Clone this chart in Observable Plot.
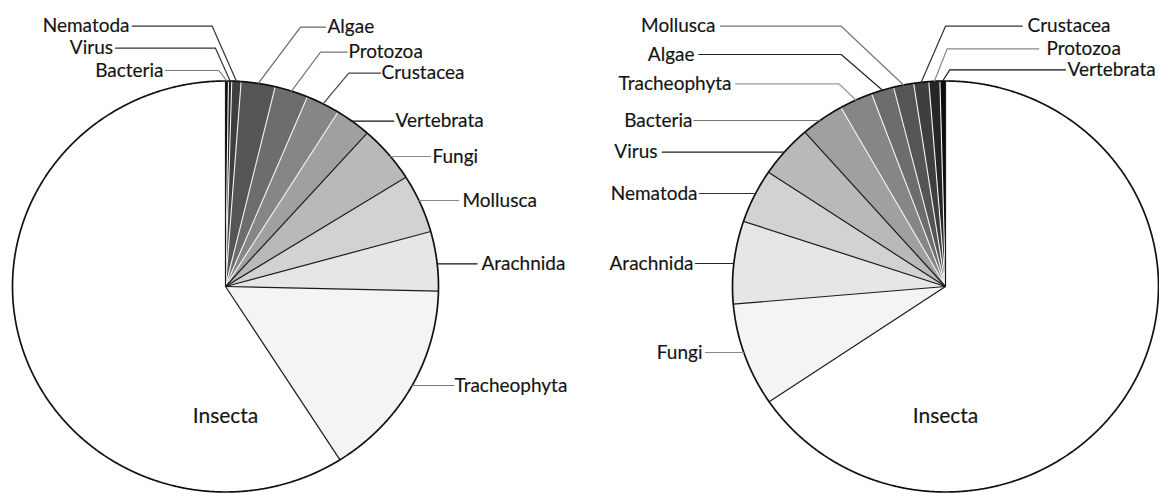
<!DOCTYPE html>
<html><head><meta charset="utf-8">
<script src="https://cdn.jsdelivr.net/npm/d3@7"></script>
<script src="https://cdn.jsdelivr.net/npm/@observablehq/plot@0.6"></script>
<style>html,body{margin:0;padding:0;background:#fff;} #chart{width:1159px;height:493px;overflow:hidden}</style>
</head><body><div id="chart"></div>
<script>
// ---------------- DATA (shares in %) ----------------
const categoriesLeft = ["Bacteria","Virus","Nematoda","Algae","Protozoa","Crustacea","Vertebrata","Fungi","Mollusca","Arachnida","Tracheophyta","Insecta"];
const valuesLeft = [0.22, 0.25, 0.7, 2.58, 2.53, 2.58, 2.72, 4.5, 4.61, 4.67, 15.61, 59.03];
const categoriesRight = ["Vertebrata","Protozoa","Crustacea","Mollusca","Algae","Tracheophyta","Bacteria","Virus","Nematoda","Arachnida","Fungi","Insecta"];
const valuesRight = [0.42, 0.83, 1.14, 1.53, 1.72, 2.53, 3.31, 4.14, 4.25, 6.5, 8.11, 65.53];

// ---------------- STYLE / LAYOUT ----------------
const W = 1159, H = 493;
const RX = 213, RY = 205.5, CX0 = 225, CY0 = 286;
const grays = ["#0d0d0d","#262626","#3f3f3f","#555555","#6d6d6d","#868686","#a0a0a0","#b9b9b9","#d2d2d2","#e6e6e6","#f4f4f4","#ffffff"];
const FONT = "Lato, 'Open Sans', sans-serif";
const ux = px => (px - CX0) / RX;
const uy = py => (CY0 - py) / RY;

// label layout: ly = label row, ex = elbow x (null: horizontal from rim), endX = line end, tx = text x
const leftLabels = [
  {cat:"Nematoda", ly:25.7, ex:211.7, endX:131.7, tx:129, anchor:"end", color:"#333"},
  {cat:"Virus", ly:47.7, ex:215, endX:115, tx:112.5, anchor:"end", color:"#333"},
  {cat:"Bacteria", ly:70, ex:218.3, endX:165, tx:163, anchor:"end", color:"#777"},
  {cat:"Algae", ly:26.7, ex:300, endX:325, tx:327, anchor:"start", color:"#666"},
  {cat:"Protozoa", ly:51.7, ex:320, endX:346.7, tx:348, anchor:"start", color:"#777"},
  {cat:"Crustacea", ly:72.7, ex:348.3, endX:380, tx:381, anchor:"start", color:"#444"},
  {cat:"Vertebrata", ly:120.7, ex:null, endX:393.3, tx:395, anchor:"start", color:"#111"},
  {cat:"Fungi", ly:156, ex:null, endX:430, tx:432, anchor:"start", color:"#888"},
  {cat:"Mollusca", ly:200, ex:null, endX:458.3, tx:462, anchor:"start", color:"#888"},
  {cat:"Arachnida", ly:263.3, ex:null, endX:476.7, tx:481, anchor:"start", color:"#111"},
  {cat:"Tracheophyta", ly:385, ex:null, endX:453.3, tx:454, anchor:"start", color:"#777"}
];
const rightLabels = [
  {cat:"Mollusca", ly:25.7, ex:840.7, endX:720, tx:715, anchor:"end", color:"#777"},
  {cat:"Algae", ly:54, ex:840.7, endX:698.3, tx:694, anchor:"end", color:"#222"},
  {cat:"Tracheophyta", ly:83.3, ex:838.3, endX:735, tx:731, anchor:"end", color:"#999"},
  {cat:"Bacteria", ly:120, ex:null, endX:693.3, tx:692, anchor:"end", color:"#777"},
  {cat:"Virus", ly:151.7, ex:null, endX:661.7, tx:657, anchor:"end", color:"#222"},
  {cat:"Nematoda", ly:193, ex:null, endX:699, tx:697, anchor:"end", color:"#333"},
  {cat:"Arachnida", ly:263, ex:null, endX:695, tx:693, anchor:"end", color:"#222"},
  {cat:"Fungi", ly:352, ex:null, endX:705, tx:702, anchor:"end", color:"#888"},
  {cat:"Crustacea", ly:25.7, ex:945, endX:1021.7, tx:1027, anchor:"start", color:"#333"},
  {cat:"Protozoa", ly:48.3, ex:946.7, endX:1038.3, tx:1046, anchor:"start", color:"#888"},
  {cat:"Vertebrata", ly:69.3, ex:949.3, endX:1065, tx:1067, anchor:"start", color:"#111"}
];

const pies = [
  {key:"L", cx:225, cy:286, dir:1, cats:categoriesLeft, vals:valuesLeft, labels:leftLabels},
  {key:"R", cx:945, cy:286, dir:-1, cats:categoriesRight, vals:valuesRight, labels:rightLabels}
];

// ---------------- GEOMETRY FROM DATA ----------------
const pt = (p, deg, r = 1) => { const t = deg * Math.PI / 180; return {x: ux(p.cx) + p.dir * r * Math.sin(t), y: uy(p.cy) + r * Math.cos(t)}; };
const slicePts = [], rimPts = [], bounds = [], leaders = [], texts = [];
for (const p of pies) {
  const total = d3.sum(p.vals);
  let cum = 0;
  const slices = p.cats.map((c, i) => { const a0 = cum / total * 360; cum += p.vals[i]; const a1 = cum / total * 360; return {cat:c, i, a0, a1, mid:(a0 + a1) / 2}; });
  for (const s of slices) {
    const id = p.key + s.i, fill = grays[s.i];
    const c = pt(p, 0, 0);
    slicePts.push({...c, id, fill});
    const n = Math.max(2, Math.ceil((s.a1 - s.a0) / 0.25));
    for (let k = 0; k <= n; k++) slicePts.push({...pt(p, s.a0 + (s.a1 - s.a0) * k / n), id, fill});
    slicePts.push({...c, id, fill});
    const e = pt(p, s.a0);
    bounds.push({x1:c.x, y1:c.y, x2:e.x, y2:e.y, white: s.i >= 1 && s.i <= 6});
  }
  for (let k = 0; k <= 1440; k++) rimPts.push({...pt(p, k / 4), pie:p.key});
  const byCat = new Map(slices.map(s => [s.cat, s]));
  for (const L of p.labels) {
    const s = byCat.get(L.cat), id = p.key + "-" + L.cat;
    const v = uy(L.ly) - uy(p.cy);
    if (L.ex === null) {
      const rx = ux(p.cx) + p.dir * Math.sqrt(Math.max(0, 1 - v * v));
      leaders.push({x:rx, y:uy(L.ly), id, color:L.color});
    } else {
      const r = pt(p, s.mid);
      leaders.push({...r, id, color:L.color});
      leaders.push({x:ux(L.ex), y:uy(L.ly), id, color:L.color});
    }
    leaders.push({x:ux(L.endX), y:uy(L.ly), id, color:L.color});
    texts.push({x:ux(L.tx), y:uy(L.ly), text:L.cat, anchor:L.anchor});
  }
  texts.push({x:ux(p.cx), y:uy(416), text:"Insecta", anchor:"middle"});
}

const txt = (anchor, size) => Plot.text(texts.filter(d => d.anchor === anchor), {x:"x", y:"y", text:"text", textAnchor:anchor, fontSize:size, fontFamily:FONT, fill:"#141414", stroke:"#141414", strokeWidth:0.15});

const chart = Plot.plot({
  width: W, height: H, margin: 0,
  x: {domain: [ux(0), ux(W)], range: [0, W], axis: null},
  y: {domain: [uy(H), uy(0)], range: [H, 0], axis: null},
  style: {background: "#fff", overflow: "visible"},
  marks: [
    Plot.line(slicePts, {x:"x", y:"y", z:"id", fill:"fill", stroke:"fill", strokeWidth:0.5, curve:"linear"}),
    Plot.link(bounds.filter(d => d.white), {x1:"x1", y1:"y1", x2:"x2", y2:"y2", stroke:"#f4f4f4", strokeWidth:1.1}),
    Plot.link(bounds.filter(d => !d.white), {x1:"x1", y1:"y1", x2:"x2", y2:"y2", stroke:"#1a1a1a", strokeWidth:1.2}),
    Plot.line(rimPts, {x:"x", y:"y", z:"pie", stroke:"#111", strokeWidth:1.7}),
    Plot.line(leaders, {x:"x", y:"y", z:"id", stroke:"color", strokeWidth:1.2}),
    txt("start", 19), txt("end", 19), txt("middle", 21)
  ]
});
document.getElementById("chart").append(chart);
</script></body></html>
